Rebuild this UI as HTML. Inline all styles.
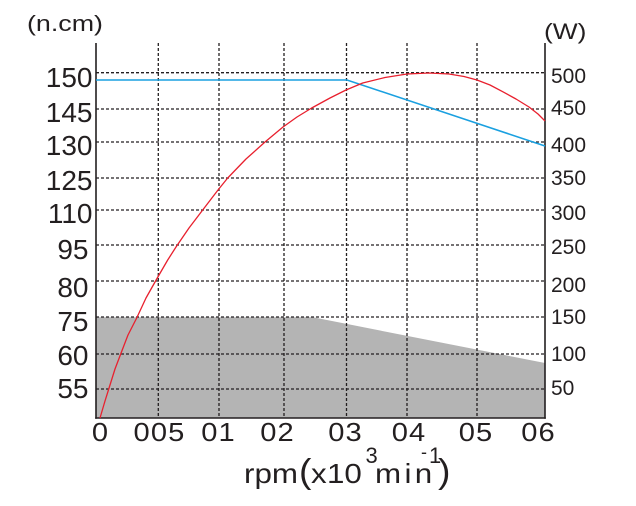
<!DOCTYPE html>
<html><head><meta charset="utf-8"><style>
html,body{margin:0;padding:0;background:#fff;}
svg{display:block;font-family:"Liberation Sans",Arial,sans-serif;}
</style></head><body>
<svg width="636" height="506" viewBox="0 0 636 506" xmlns="http://www.w3.org/2000/svg">
<rect width="636" height="506" fill="#fff"/>
<!-- gray area -->
<polygon points="96,317.3 313,317.3 545,363 545,418 96,418" fill="#b4b4b4"/>
<!-- grid -->
<g stroke="#231f20" stroke-width="1.3" stroke-dasharray="3,2" fill="none">
<line x1="96" y1="72.7" x2="545" y2="72.7"/>
<line x1="96" y1="109" x2="545" y2="109"/>
<line x1="96" y1="142" x2="545" y2="142"/>
<line x1="96" y1="178" x2="545" y2="178"/>
<line x1="96" y1="210" x2="545" y2="210"/>
<line x1="96" y1="245" x2="545" y2="245"/>
<line x1="96" y1="281" x2="545" y2="281"/>
<line x1="96" y1="317" x2="545" y2="317"/>
<line x1="96" y1="354" x2="545" y2="354"/>
<line x1="96" y1="389" x2="545" y2="389"/>
<line x1="158.3" y1="43" x2="158.3" y2="418"/>
<line x1="219" y1="43" x2="219" y2="418"/>
<line x1="284" y1="43" x2="284" y2="418"/>
<line x1="346.5" y1="43" x2="346.5" y2="418"/>
<line x1="407" y1="43" x2="407" y2="418"/>
<line x1="477" y1="43" x2="477" y2="418"/>
</g>
<!-- axes -->
<g stroke="#231f20" stroke-width="1.6" fill="none">
<line x1="96" y1="43" x2="96" y2="418.8"/>
<line x1="545" y1="43" x2="545" y2="418.8"/>
<line x1="95.2" y1="418" x2="545.8" y2="418"/>
</g>
<!-- blue -->
<polyline points="96,80 347,80 545,146" fill="none" stroke="#1aa0e0" stroke-width="1.6"/>
<!-- red -->
<polyline points="100,418 105,401 110,385 115,369 120.7,354 128,335 136.7,318 146,298 156.7,279 167.7,260 176,247 189,228 202.7,210 218,190 227.7,178 246,159 265,142 283,127 297,117 311.7,108 330,98 346,90 362.7,83 385,77.5 407,74 429,73 449,74 464,76.5 477,80 490,85 502.7,91.7 516,99 529,107 538,114 545,121" fill="none" stroke="#e8202e" stroke-width="1.3" stroke-linejoin="round"/>
<!-- unit labels -->
<g fill="#231f20" font-size="22">
<text transform="translate(27,31) scale(1.22,1)">(n.cm)</text>
<text transform="translate(544,39) scale(1.2,1)">(W)</text>
</g>
<!-- left ticks -->
<g fill="#231f20" font-size="28" text-anchor="end">
<text x="92.5" y="87">150</text>
<text x="92.5" y="122">145</text>
<text x="92.5" y="155">130</text>
<text x="92.5" y="190">125</text>
<text x="92.5" y="223">110</text>
<text x="88.5" y="259">95</text>
<text x="88.5" y="297">80</text>
<text x="88.5" y="331">75</text>
<text x="88.5" y="365">60</text>
<text x="88.5" y="398">55</text>
</g>
<!-- right ticks -->
<g fill="#231f20" font-size="21">
<text x="551" y="83">500</text>
<text x="551" y="115">450</text>
<text x="551" y="152">400</text>
<text x="551" y="185">350</text>
<text x="551" y="220">300</text>
<text x="551" y="254">250</text>
<text x="551" y="292">200</text>
<text x="551" y="324">150</text>
<text x="551" y="361">100</text>
<text x="551" y="395">50</text>
</g>
<!-- x ticks -->
<g fill="#231f20" font-size="26" text-anchor="middle" letter-spacing="1">
<text transform="translate(100.5,441) scale(1.12,1)">0</text>
<text transform="translate(159.5,441) scale(1.12,1)">005</text>
<text transform="translate(218.5,441) scale(1.12,1)">01</text>
<text transform="translate(277.5,441) scale(1.12,1)">02</text>
<text transform="translate(345.5,441) scale(1.12,1)">03</text>
<text transform="translate(409,441) scale(1.12,1)">04</text>
<text transform="translate(476,441) scale(1.12,1)">05</text>
<text transform="translate(538.5,441) scale(1.12,1)">06</text>
</g>
<!-- x title -->
<g fill="#231f20">
<text transform="translate(244,483) scale(1.12,1)" font-size="28">rpm</text>
<text transform="translate(299,483) scale(1.1,1)" font-size="34">(</text>
<text transform="translate(311,483) scale(1.12,1)" font-size="28">x</text>
<text transform="translate(327,483) scale(1.12,1)" font-size="28">10</text>
<text x="365.5" y="463" font-size="22">3</text>
<text transform="translate(375,483) scale(1.12,1)" font-size="28" letter-spacing="3">min</text>
<text x="421" y="458" font-size="18">-</text>
<text x="429" y="463" font-size="22">1</text>
<text transform="translate(438,483) scale(1.1,1)" font-size="34">)</text>
</g>
</svg>
</body></html>
